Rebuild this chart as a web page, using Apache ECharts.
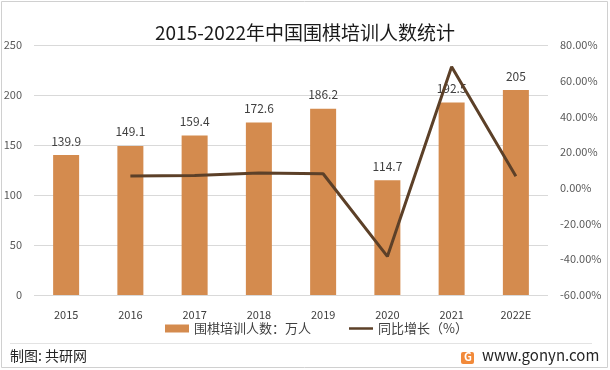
<!DOCTYPE html>
<html>
<head>
<meta charset="utf-8">
<script src="https://cdn.jsdelivr.net/npm/echarts@6/dist/echarts.min.js"></script>
<style>
html,body{margin:0;padding:0;background:#fff;}
#c{width:610px;height:370px;}
</style>
</head>
<body>
<div id="c"></div>
<script>
const categories = ['2015','2016','2017','2018','2019','2020','2021','2022E'];
const trainees = [139.9, 149.1, 159.4, 172.6, 186.2, 114.7, 192.5, 205];
const growth = [null, 6.6, 6.9, 8.3, 7.9, -38.4, 67.8, 6.5];
const leftTicks = {min: 0, max: 250, interval: 50};
const rightTicks = {min: -60, max: 80, interval: 20};

const FONT = '"Noto Sans CJK SC", "Noto Sans", sans-serif';
const chart = echarts.init(document.getElementById('c'));
chart.setOption({
  animation: false,
  backgroundColor: '#fff',
  title: {
    text: '2015-2022年中国围棋培训人数统计',
    left: 'center',
    top: 18,
    textStyle: {fontFamily: FONT, fontSize: 19, fontWeight: 'normal', color: '#1a1a1a'}
  },
  legend: {
    bottom: 30,
    left: 160,
    itemGap: 38,
    itemWidth: 24,
    itemHeight: 8,
    textStyle: {fontFamily: FONT, fontSize: 13, color: '#404040'},
    data: [
      {name: '围棋培训人数：万人', icon: 'rect'},
      {name: '同比增长（%）', icon: 'path://M0,3h24v2.5h-24z'}
    ]
  },
  grid: {left: 34, right: 62, top: 45, bottom: 75},
  xAxis: {
    type: 'category',
    data: categories,
    axisLine: {show: false},
    axisTick: {show: false},
    axisLabel: {fontFamily: FONT, fontSize: 11, color: '#404040', margin: 14}
  },
  yAxis: [
    {
      type: 'value',
      min: leftTicks.min, max: leftTicks.max, interval: leftTicks.interval,
      axisLine: {show: false}, axisTick: {show: false},
      axisLabel: {fontFamily: FONT, fontSize: 11, color: '#595959', margin: 12},
      splitLine: {lineStyle: {color: '#d9d9d9', width: 1}}
    },
    {
      type: 'value',
      min: rightTicks.min, max: rightTicks.max, interval: rightTicks.interval,
      axisLine: {show: false}, axisTick: {show: false},
      axisLabel: {fontFamily: FONT, fontSize: 11, color: '#595959', margin: 12,
        formatter: v => v.toFixed(2) + '%'},
      splitLine: {show: false}
    }
  ],
  series: [
    {
      name: '围棋培训人数：万人',
      type: 'bar',
      data: trainees,
      barWidth: 26,
      itemStyle: {color: '#D48B4E'},
      label: {show: true, position: 'top', distance: 8, fontFamily: FONT, fontSize: 12, color: '#404040'}
    },
    {
      name: '同比增长（%）',
      type: 'line',
      yAxisIndex: 1,
      data: growth,
      symbol: 'none',
      lineStyle: {color: '#5C4028', width: 3},
      itemStyle: {color: '#5C4028'},
      z: 5
    }
  ],
  graphic: [
    {type: 'rect', shape: {x: 1.5, y: 1.5, width: 606, height: 366}, style: {fill: 'none', stroke: '#d0d0d0', lineWidth: 1}, silent: true},
    {type: 'line', shape: {x1: 10, y1: 343.5, x2: 592, y2: 343.5}, style: {stroke: '#e3e3e3', lineWidth: 1}},
    {type: 'text', left: 10, top: 349, style: {text: '制图: 共研网', font: '14px ' + FONT, fill: '#262626'}},
    {type: 'rect', shape: {x: 461, y: 352, width: 13, height: 12, r: 2}, style: {fill: '#F28A3A'}},
    {type: 'text', left: 464, top: 351, style: {text: 'G', font: 'bold 11px ' + FONT, fill: '#fff'}},
    {type: 'text', left: 482, top: 348, style: {text: 'www.gonyn.com', font: '15px ' + FONT, fill: '#262626'}}
  ]
});
</script>
</body>
</html>
